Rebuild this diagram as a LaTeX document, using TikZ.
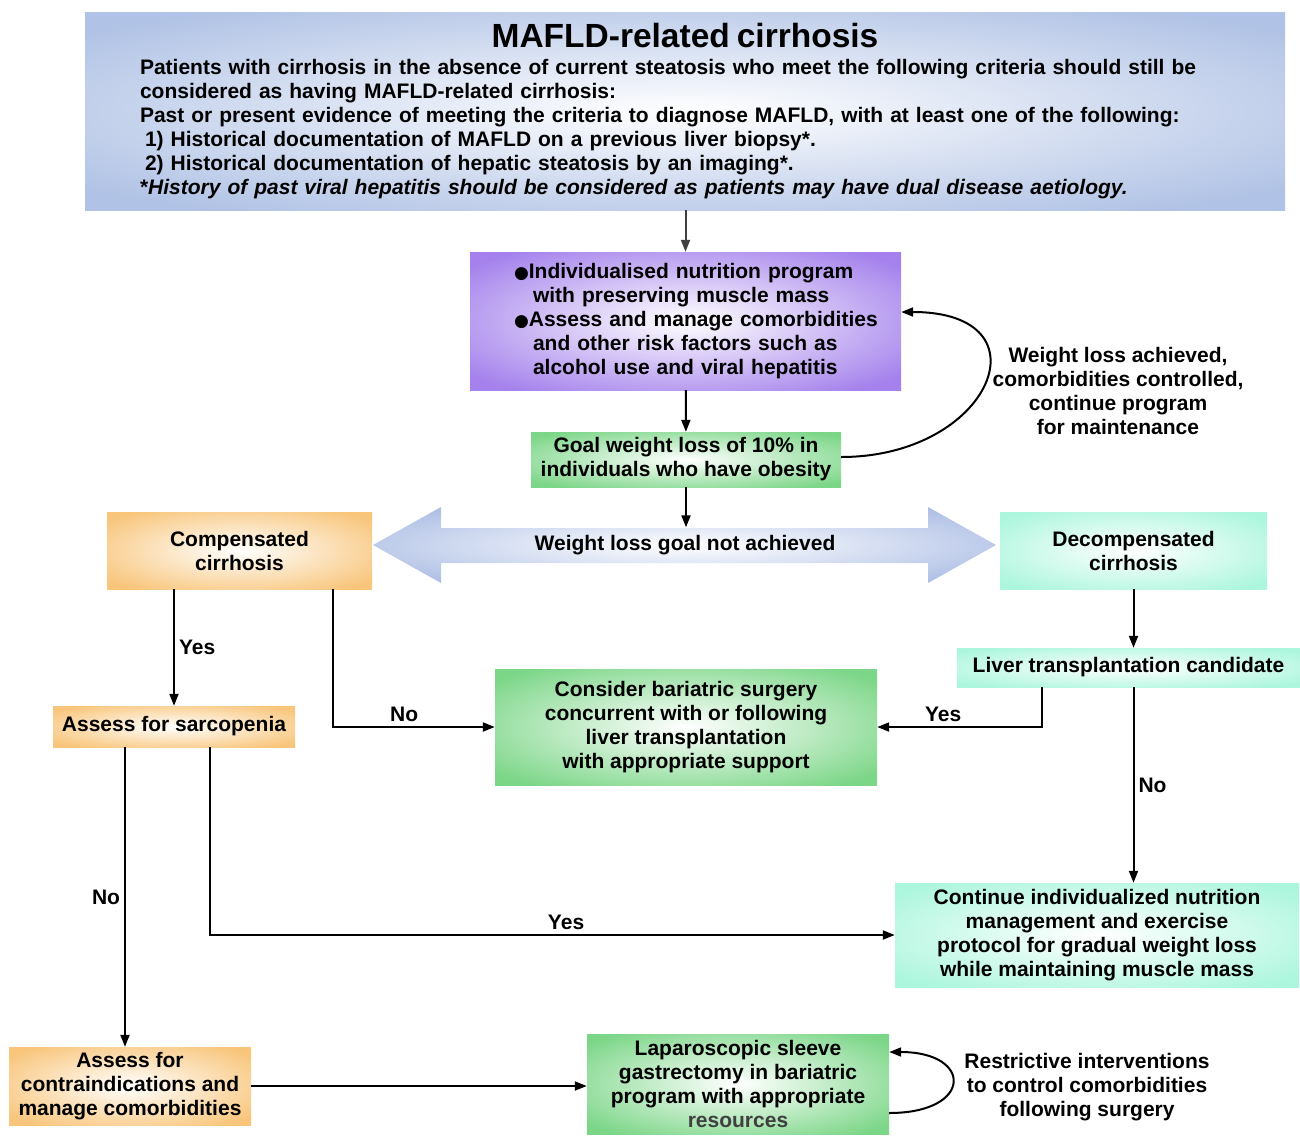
\documentclass[tikz,border=0pt]{standalone}
\usepackage{fontspec}
\setmainfont{Liberation Sans}
\newfontfamily\bulletfont{DejaVu Sans}
\usepackage{xcolor}
\usepackage{tikz}
\usetikzlibrary{arrows.meta,positioning,calc}
\definecolor{skyblue}{RGB}{176,194,229}
\definecolor{violet2}{RGB}{164,129,236}
\definecolor{green2}{RGB}{124,214,136}
\definecolor{orange2}{RGB}{248,197,122}
\definecolor{mint2}{RGB}{172,246,222}
\definecolor{arrowblue}{RGB}{170,188,228}
\colorlet{glowout}{skyblue}
\pgfdeclareradialshading[glowout]{glow}{\pgfpoint{0bp}{0bp}}{color(0bp)=(white); color(32bp)=(glowout); color(50bp)=(glowout)}
\newcommand\flowfont{\fontsize{21}{24}\selectfont\bfseries}
\newcommand\bulletdot{{\bulletfont\fontsize{17}{24}\selectfont ●}}
\tikzset{
  glowing/.style={shade, shading=glow, /utils/exec={\colorlet{glowout}{#1}}},
  glowbox/.style={glowing=#1, inner sep=0pt, align=center, font=\flowfont},
  bluebox/.style={glowbox=skyblue},
  purplebox/.style={glowbox=violet2},
  greenbox/.style={glowbox=green2},
  orangebox/.style={glowbox=orange2},
  mintbox/.style={glowbox=mint2},
  flow/.style={-{Triangle[length=12pt,width=9pt]}, line width=2pt},
  lbl/.style={font=\flowfont, align=center, inner sep=4pt}
}
\begin{document}
\begin{tikzpicture}[x=1pt,y=-1pt]
\useasboundingbox (0,0) rectangle (1300,1135);

% top criteria
\node[bluebox, minimum width=1200pt, minimum height=198pt, text width=1090pt, align=left] (mafld) at (685,111)
  {{\centering\fontsize{33.5}{36}\selectfont MAFLD-related cirrhosis\par}\vspace{2.5pt}
   Patients with cirrhosis in the absence of current steatosis who meet the following criteria should still be\\
   considered as having MAFLD-related cirrhosis:\\
   Past or present evidence of meeting the criteria to diagnose MAFLD, with at least one of the following:\\
   \hspace*{5pt}1) Historical documentation of MAFLD on a previous liver biopsy*.\\
   \hspace*{5pt}2) Historical documentation of hepatic steatosis by an imaging*.\\
   \mbox{*}\textit{History of past viral hepatitis should be considered as patients may have dual disease aetiology.}\par};

\node[purplebox, minimum width=431pt, minimum height=138pt, text width=431pt, align=left] (prog) at (685.5,321)
  {\leftskip=44pt \bulletdot Individualised nutrition program\\
   \hspace*{19pt}with preserving muscle mass\\
   \bulletdot Assess and manage comorbidities\\
   \hspace*{19pt}and other risk factors such as\\
   \hspace*{19pt}alcohol use and viral hepatitis\par};
\node[greenbox, minimum width=310pt, minimum height=55pt] (goal) at (686,459.5)
  {Goal weight loss of 10\% in\\individuals who have obesity};
\node[lbl] (achieved) at (1118,391)
  {Weight loss achieved,\\comorbidities controlled,\\continue program\\for maintenance};

% not achieved
\shade[glowing=arrowblue] (373,545) -- (441,507) -- (441,528) -- (928,528) -- (928,507) -- (996,545)
  -- (928,583) -- (928,563) -- (441,563) -- (441,583) -- cycle;
\node[font=\flowfont, minimum height=35pt, inner sep=0pt] (notach) at (685,545) {Weight loss goal not achieved};
\node[orangebox, minimum width=265pt, minimum height=77pt] (comp) at (239.5,550.5) {Compensated\\cirrhosis};
\node[mintbox, minimum width=267pt, minimum height=77pt] (decomp) at (1133.5,550.5) {Decompensated\\cirrhosis};

% branches
\node[mintbox, minimum width=343pt, minimum height=39pt] (ltc) at (1128.5,667.5) {Liver transplantation candidate};
\node[greenbox, minimum width=382pt, minimum height=116pt] (bari) at (686,727)
  {Consider bariatric surgery\\concurrent with or following\\liver transplantation\\with appropriate support};
\node[orangebox, minimum width=242pt, minimum height=41pt] (sarc) at (174,726.5) {Assess for sarcopenia};
\node[mintbox, minimum width=404pt, minimum height=104pt] (cont) at (1097,935)
  {Continue individualized nutrition\\management and exercise\\protocol for gradual weight loss\\while maintaining muscle mass};
\node[orangebox, minimum width=242pt, minimum height=78pt] (contra) at (130,1086)
  {Assess for\\contraindications and\\manage comorbidities};
\node[greenbox, minimum width=302pt, minimum height=100pt] (lap) at (738,1084)
  {Laparoscopic sleeve\\gastrectomy in bariatric\\program with appropriate\\\textcolor{black!75}{resources}};
\node[lbl] (restrict) at (1087,1087)
  {Restrictive interventions\\to control comorbidities\\following surgery};

% connectors
\draw[flow, color=black!75] (mafld.south -| prog.north) -- (prog.north);
\draw[flow] (prog) -- (goal);
\draw[flow] (goal.south) -- (goal.south |- notach.north);
\draw[flow] ([yshift=2.5pt]goal.east) to[out=0,in=0,distance=150pt] ([yshift=9pt]prog.east);
\draw[flow] (comp.south -| sarc.north) -- node[lbl, right] {Yes} (sarc.north);
\draw[flow] ([xshift=93.5pt]comp.south) |- node[lbl, pos=0.72, above] {No} (bari.west);
\draw[flow] (decomp.south) -- (decomp.south |- ltc.north);
\draw[flow] ([xshift=-86.5pt]ltc.south) |- node[lbl, pos=0.8, above] {Yes} (bari.east);
\draw[flow] (decomp.south |- ltc.south) -- node[lbl, right] {No} (decomp.south |- cont.north);
\draw[flow] ([xshift=-49pt]sarc.south) -- node[lbl, left] {No} ([xshift=-49pt]sarc.south |- contra.north);
\draw[flow] ([xshift=36pt]sarc.south) |- node[lbl, pos=0.76, above] {Yes} (cont.west);
\draw[flow] (contra.east) -- (contra.east -| lap.west);
\draw[flow] ([yshift=-29pt]lap.east) to[out=0,in=0,distance=84pt] ([yshift=32pt]lap.east);
\end{tikzpicture}
\end{document}
